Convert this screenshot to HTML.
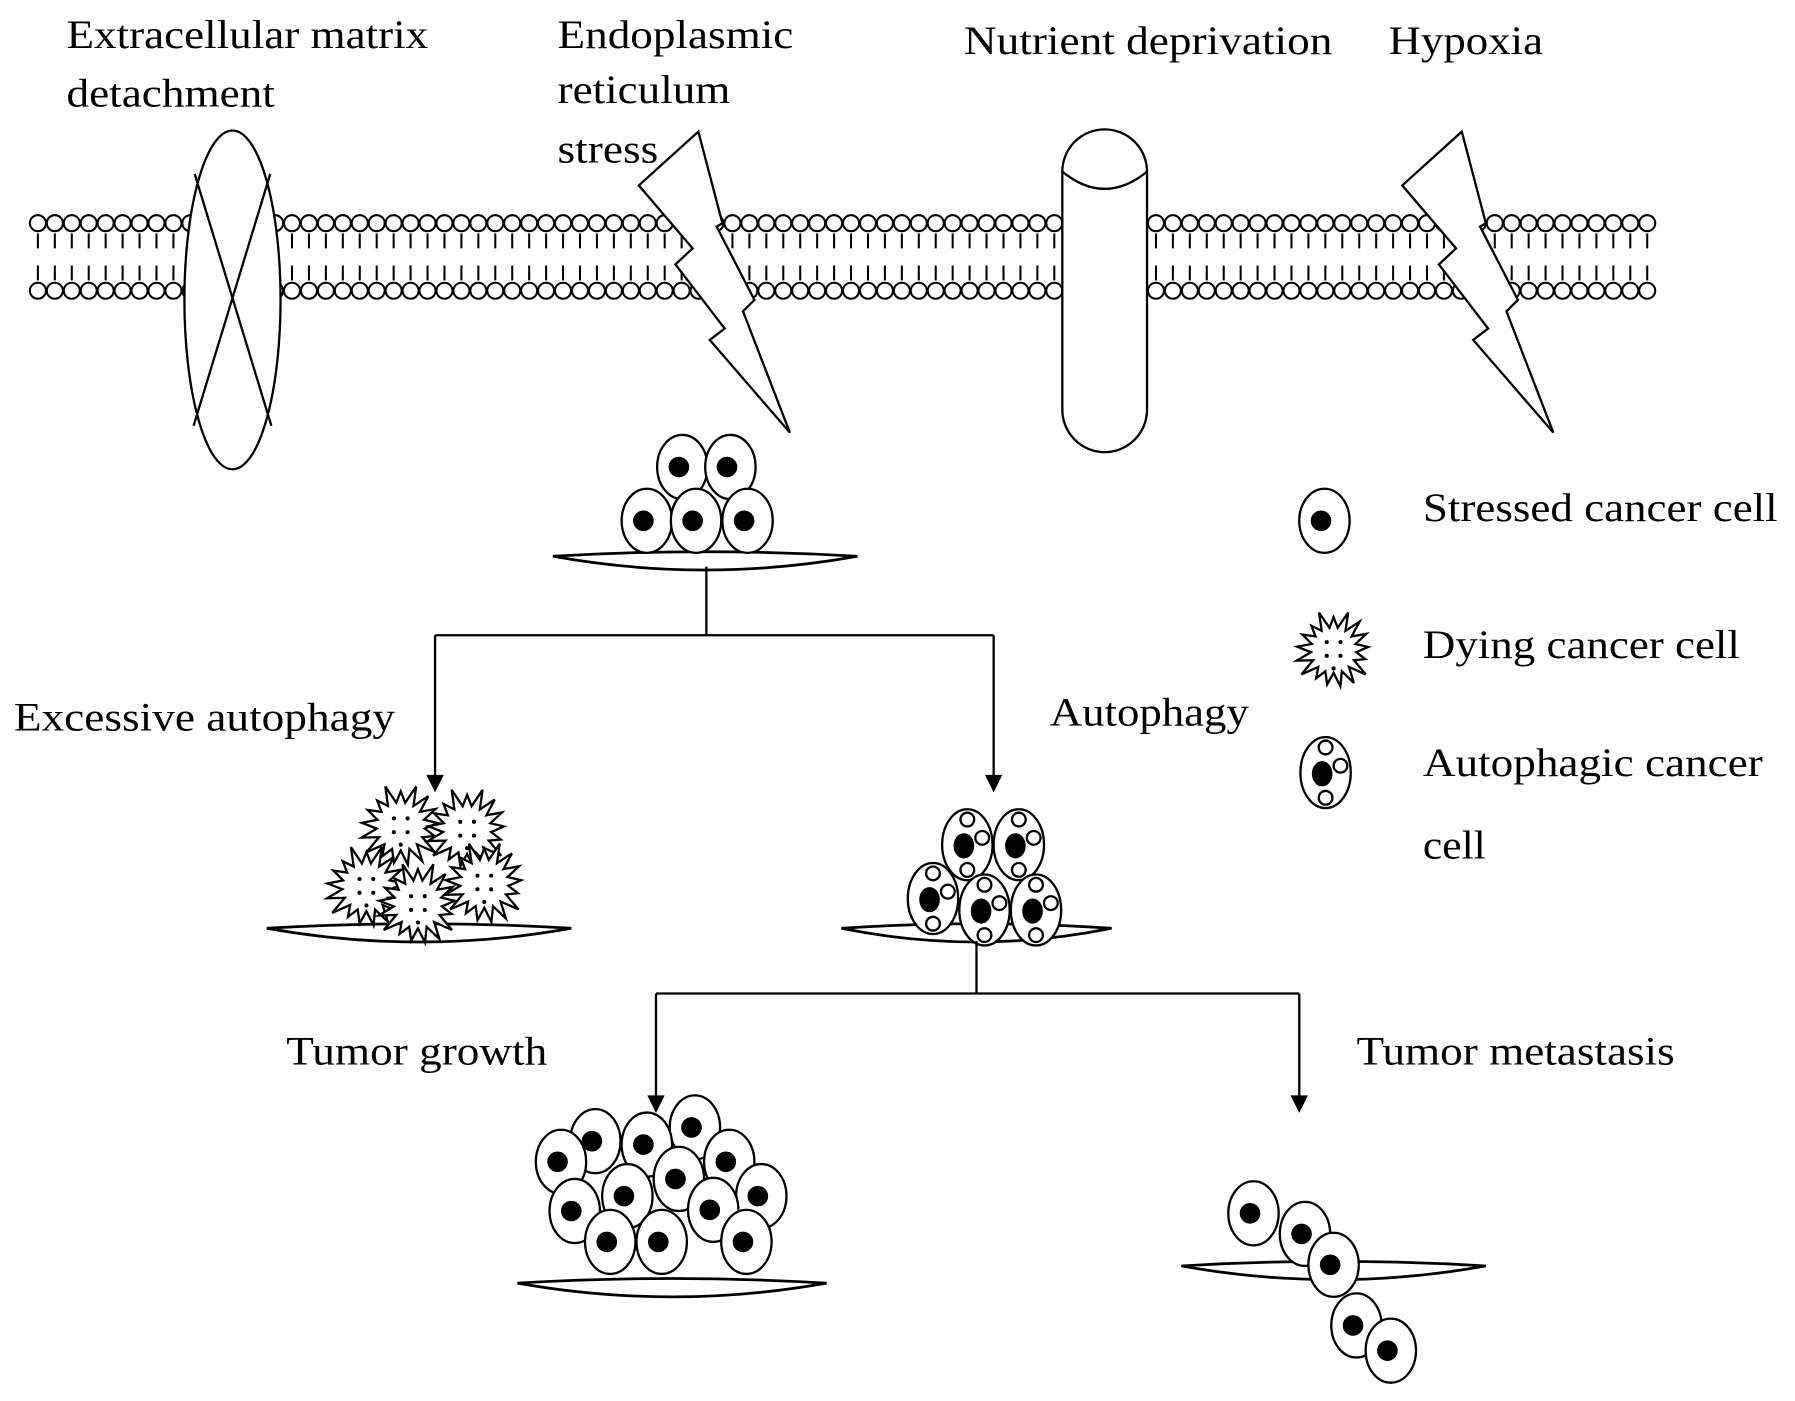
<!DOCTYPE html>
<html><head><meta charset="utf-8"><style>
html,body{margin:0;padding:0;background:#fff;}
svg{display:block;}
text{font-family:"Liberation Serif",serif;font-size:35px;fill:#000;}
</style></head><body>
<svg id="s" width="1795" height="1401" viewBox="0 0 1568 1224" xmlns="http://www.w3.org/2000/svg">
<rect width="1568" height="1224" fill="#fff"/>
<g id="mem" stroke="#000" stroke-width="1.8" fill="#fff"></g>
<g id="fg" stroke="#000" stroke-width="2" fill="#fff"></g>
<g>
<text x="58" y="42" textLength="316" lengthAdjust="spacingAndGlyphs">Extracellular matrix</text>
<text x="58" y="93" textLength="182" lengthAdjust="spacingAndGlyphs">detachment</text>
<text x="487" y="42" textLength="206" lengthAdjust="spacingAndGlyphs">Endoplasmic</text>
<text x="487" y="90" textLength="151" lengthAdjust="spacingAndGlyphs">reticulum</text>
<text x="487" y="142" textLength="88" lengthAdjust="spacingAndGlyphs">stress</text>
<text x="842" y="47" textLength="322" lengthAdjust="spacingAndGlyphs">Nutrient deprivation</text>
<text x="1213" y="47" textLength="135" lengthAdjust="spacingAndGlyphs">Hypoxia</text>
<text x="12" y="638" textLength="333" lengthAdjust="spacingAndGlyphs">Excessive autophagy</text>
<text x="917" y="634" textLength="174" lengthAdjust="spacingAndGlyphs">Autophagy</text>
<text x="1243" y="455" textLength="310" lengthAdjust="spacingAndGlyphs">Stressed cancer cell</text>
<text x="1243" y="575" textLength="277" lengthAdjust="spacingAndGlyphs">Dying cancer cell</text>
<text x="1243" y="678" textLength="297" lengthAdjust="spacingAndGlyphs">Autophagic cancer</text>
<text x="1243" y="750" textLength="55" lengthAdjust="spacingAndGlyphs">cell</text>
<text x="250" y="930" textLength="228" lengthAdjust="spacingAndGlyphs">Tumor growth</text>
<text x="1185" y="930" textLength="278" lengthAdjust="spacingAndGlyphs">Tumor metastasis</text>
</g>
</svg>
<script>
var NS="http://www.w3.org/2000/svg";
function el(p,t,a){var e=document.createElementNS(NS,t);for(var k in a)e.setAttribute(k,a[k]);p.appendChild(e);return e;}
var mem=document.getElementById('mem'),fg=document.getElementById('fg');
for(var x=33;x<1448;x+=14.8){
 el(mem,'circle',{cx:x,cy:195,r:7});
 el(mem,'circle',{cx:x,cy:254,r:7});
 el(mem,'line',{x1:x,y1:204,x2:x,y2:217});
 el(mem,'line',{x1:x,y1:232,x2:x,y2:245});
}
el(fg,'ellipse',{cx:203,cy:262,rx:42,ry:148});
el(fg,'line',{x1:170,y1:152,x2:237,y2:372});
el(fg,'line',{x1:236,y1:152,x2:169,y2:372});
function bolt(dx){
 var p=[[610,115],[558,162],[605,217],[590,231],[633,287],[620,297],[690,378],[649,272],[659,262],[626,198],[631,195]];
 el(fg,'polygon',{points:p.map(function(q){return (q[0]+dx)+','+q[1];}).join(' ')});
}
bolt(0);bolt(667);
el(fg,'rect',{x:928,y:113,width:74,height:282,rx:37,ry:37});
el(fg,'path',{d:'M928,150 Q965,180 1002,150',fill:'none'});
function dish(cx,cy,rx){
 el(fg,'path',{d:'M'+(cx-rx)+','+(cy-4)+' Q'+cx+','+(cy-12)+' '+(cx+rx)+','+(cy-4)+' Q'+cx+','+(cy+20)+' '+(cx-rx)+','+(cy-4)+'Z','stroke-width':2.4});
}
function cell(cx,cy){el(fg,'ellipse',{cx:cx,cy:cy,rx:22,ry:28});el(fg,'circle',{cx:cx-3,cy:cy,r:8,fill:'#000'});}
function acell(cx,cy){el(fg,'ellipse',{cx:cx,cy:cy,rx:22,ry:31});el(fg,'ellipse',{cx:cx-3,cy:cy+1,rx:8,ry:10,fill:'#000'});
 el(fg,'circle',{cx:cx,cy:cy-22,r:6});el(fg,'circle',{cx:cx+13,cy:cy-6,r:6});el(fg,'circle',{cx:cx,cy:cy+22,r:6});}
function star(cx,cy,R){var n=17,pts=[];for(var i=0;i<2*n;i++){var a=i*Math.PI/n;var r=i%2?R*0.62:R*(0.9+0.2*((i*7)%5)/4);pts.push((cx+r*Math.sin(a)).toFixed(1)+','+(cy-r*Math.cos(a)).toFixed(1));}
 el(fg,'polygon',{points:pts.join(' ')});
 [[-6,-7],[6,-7],[-6,5],[6,5],[0,16]].forEach(function(d){el(fg,'circle',{cx:cx+d[0],cy:cy+d[1],r:1.8,fill:'#000',stroke:'none'});});}
dish(616,490,133);
[[596,408],[638,408],[565,455],[608,455],[653,455]].forEach(function(c){cell(c[0],c[1]);});
function line(a,b,c,d){el(fg,'line',{x1:a,y1:b,x2:c,y2:d});}
function arrow(x,y1,y2){line(x,y1,x,y2-10);el(fg,'polygon',{points:(x-6)+','+(y2-12)+' '+(x+6)+','+(y2-12)+' '+x+','+y2,fill:'#000'});}
line(617,495,617,555);line(380,555,868,555);arrow(380,555,690);arrow(868,555,690);
dish(366,815,133);
[[350,722],[408,725],[320,775],[423,772],[365,790]].forEach(function(c){star(c[0],c[1],34);});
dish(853,815,118);
[[845,738],[890,738],[815,785],[860,795],[905,795]].forEach(function(c){acell(c[0],c[1]);});
line(853,822,853,868);line(573,868,1135,868);arrow(573,868,970);arrow(1135,868,970);
dish(587,1125,135);
[[607,985],[520,997],[565,1000],[490,1015],[637,1015],[548,1045],[593,1030],[502,1058],[665,1045],[623,1057],[533,1085],[578,1085],[652,1085]].forEach(function(c){cell(c[0],c[1]);});
dish(1165,1110,133);
[[1095,1060],[1140,1078],[1165,1105],[1185,1158],[1215,1180]].forEach(function(c){cell(c[0],c[1]);});
cell(1157,455);star(1165,568,32);acell(1158,675);
</script>
</body></html>
